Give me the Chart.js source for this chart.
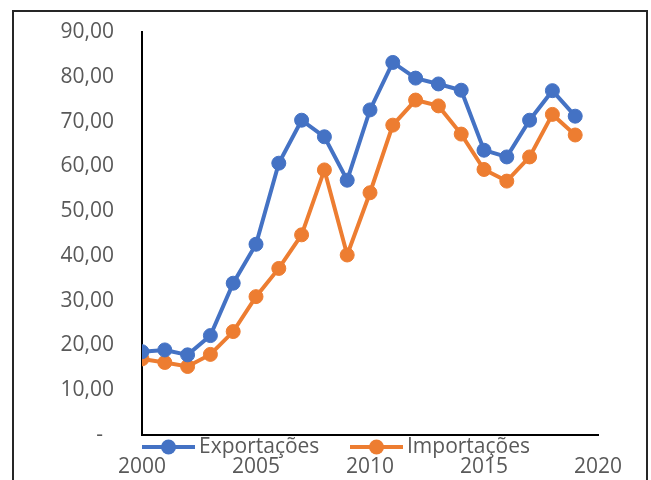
<!DOCTYPE html>
<html lang="pt">
  <head>
    <meta charset="UTF-8" />
    <title>Exportações e Importações</title>
    <script src="https://cdn.jsdelivr.net/npm/chart.js"></script>
    <style>
      html, body { margin: 0; padding: 0; background: #fff; overflow: hidden; }
      #frame {
        position: absolute; left: 12px; top: 10px; width: 636px; height: 600px;
        box-sizing: border-box; border: 2px solid #262626;
      }
      #wrap { position: absolute; left: 0; top: 0; width: 651px; height: 480px; }
    </style>
  </head>
  <body>
    <div id="frame"></div>
    <div id="wrap"><canvas id="chart"></canvas></div>

    <script>
      // values
      const years = [2000, 2001, 2002, 2003, 2004, 2005, 2006, 2007, 2008, 2009,
                     2010, 2011, 2012, 2013, 2014, 2015, 2016, 2017, 2018, 2019];
      const exportacoes = [18.6, 19.0, 17.9, 22.2, 33.9, 42.6, 60.7, 70.3, 66.6, 56.9,
                           72.6, 83.2, 79.7, 78.4, 77.0, 63.6, 62.1, 70.3, 76.9, 71.2];
      const importacoes = [17.0, 16.2, 15.3, 18.0, 23.1, 30.9, 37.2, 44.7, 59.2, 40.2,
                           54.1, 69.2, 74.8, 73.5, 67.2, 59.3, 56.7, 62.1, 71.6, 67.0];
      const xTicks = [2000, 2005, 2010, 2015, 2020];

      const FONT = "'Open Sans', 'Liberation Sans', sans-serif";
      const TEXT = "#595959";

      function pts(vals) {
        return years.map((y, i) => ({ x: y, y: vals[i] }));
      }

      function series(label, vals, color) {
        return {
          label,
          data: pts(vals),
          borderColor: color,
          backgroundColor: color,
          borderWidth: 4,
          pointRadius: 7,
          pointBorderWidth: 1,
          pointBorderColor: color,
          pointBackgroundColor: color,
          tension: 0,
        };
      }

      // legend drawn just under the x axis line, like the original
      const legendUnderAxis = {
        id: "legendUnderAxis",
        afterDraw(chart) {
          const ctx = chart.ctx;
          const y = chart.chartArea.bottom + 12;
          const starts = [chart.chartArea.left, chart.chartArea.left + 208];
          ctx.save();
          ctx.font = "21px " + FONT;
          ctx.textBaseline = "middle";
          ctx.textAlign = "left";
          chart.data.datasets.forEach((ds, i) => {
            const x0 = starts[i];
            ctx.strokeStyle = ds.borderColor;
            ctx.lineWidth = 4;
            ctx.beginPath();
            ctx.moveTo(x0, y);
            ctx.lineTo(x0 + 53, y);
            ctx.stroke();
            ctx.fillStyle = ds.borderColor;
            ctx.beginPath();
            ctx.arc(x0 + 26.5, y, 7.5, 0, Math.PI * 2);
            ctx.fill();
            ctx.fillStyle = TEXT;
            ctx.fillText(ds.label, x0 + 57, y);
          });
          ctx.restore();
        },
      };

      new Chart(document.getElementById("chart"), {
        type: "line",
        data: {
          datasets: [
            series("Exportações", exportacoes, "#4472C4"),
            series("Importações", importacoes, "#ED7D31"),
          ],
        },
        options: {
          responsive: true,
          maintainAspectRatio: false,
          animation: false,
          layout: { autoPadding: false, padding: { left: 0, top: 32, right: 53, bottom: 0 } },
          plugins: { legend: { display: false }, tooltip: { enabled: false } },
          scales: {
            x: {
              type: "linear",
              min: 2000,
              max: 2020,
              afterBuildTicks: (s) => { s.ticks = xTicks.map((v) => ({ value: v })); },
              afterFit: (s) => { s.height = 45; s.paddingLeft = 0; s.paddingRight = 0; },
              grid: { display: false, drawTicks: false },
              border: { display: true, color: "#000", width: 2 },
              ticks: {
                color: TEXT,
                font: { family: FONT, size: 21 },
                padding: 19,
                maxRotation: 0,
                callback: (v) => String(v),
              },
            },
            y: {
              min: 0,
              max: 90,
              afterFit: (s) => { s.width = 142; s.paddingTop = 0; s.paddingBottom = 0; },
              grid: { display: false, drawTicks: false },
              border: { display: true, color: "#000", width: 2 },
              ticks: {
                stepSize: 10,
                color: TEXT,
                font: { family: FONT, size: 21 },
                padding: 28,
                callback: (v) => (v === 0 ? "-  " : v.toFixed(2).replace(".", ",")),
              },
            },
          },
        },
        plugins: [legendUnderAxis],
      });
    </script>
  </body>
</html>
